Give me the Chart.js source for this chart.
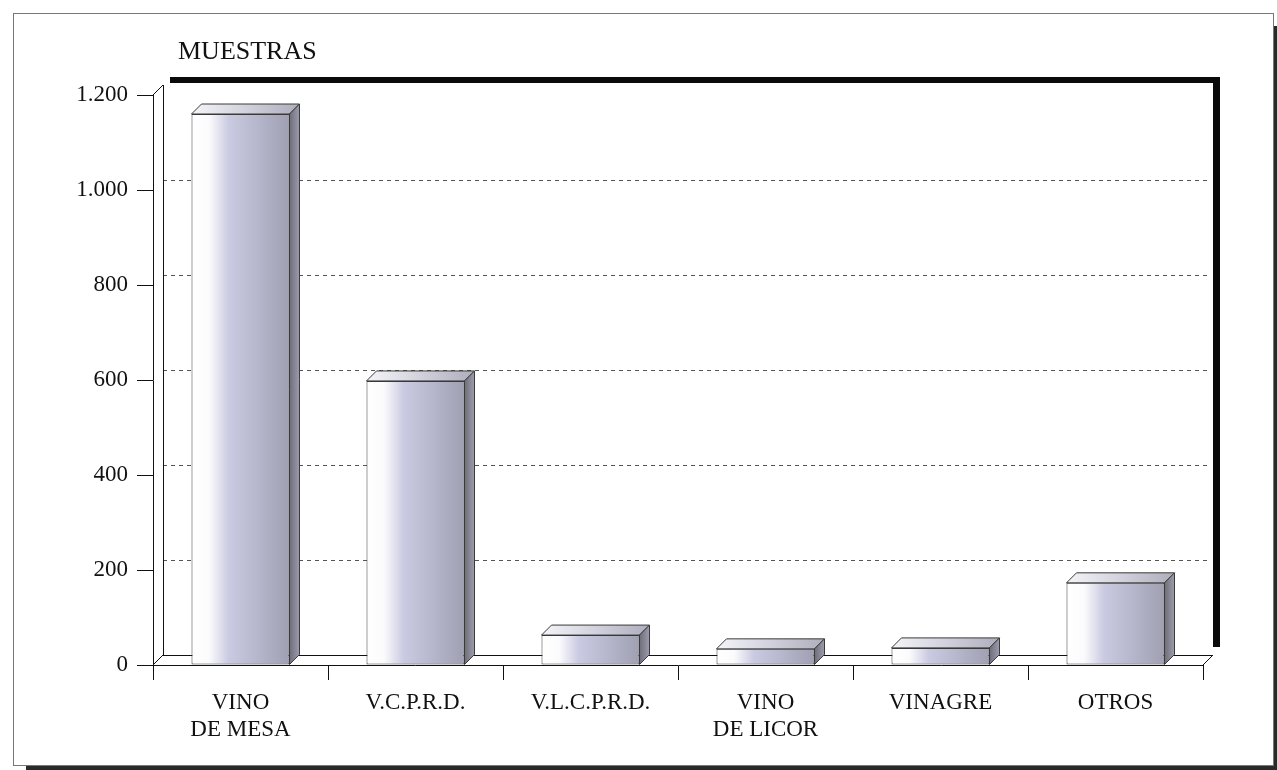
<!DOCTYPE html>
<html>
<head>
<meta charset="utf-8">
<script src="https://cdn.jsdelivr.net/npm/chart.js@4.4.0/dist/chart.umd.min.js"></script>
<style>
  html, body { margin: 0; padding: 0; background: #ffffff; }
  #wrap { width: 1277px; height: 770px; }
</style>
</head>
<body>
<div id="wrap"><canvas id="c" width="1277" height="770"></canvas></div>
<script>
const categories = [["VINO", "DE MESA"], "V.C.P.R.D.", "V.L.C.P.R.D.", ["VINO", "DE LICOR"], "VINAGRE", "OTROS"];
const muestras = [1160, 598, 63, 34, 36, 173];
const yTicks = [0, 200, 400, 600, 800, 1000, 1200];
const yTitle = "MUESTRAS";

const FONT = "'Liberation Serif', 'Times New Roman', serif";
const DEPTH = 10;

function fmt(v) {
  return String(v).replace(/\B(?=(\d{3})+(?!\d))/g, ".");
}

const frame3d = {
  id: 'frame3d',
  beforeDraw(chart) {
    const ctx = chart.ctx;
    ctx.save();
    ctx.fillStyle = '#ffffff';
    ctx.fillRect(0, 0, chart.width, chart.height);
    // outer box with shadow
    ctx.strokeStyle = '#777777';
    ctx.lineWidth = 1;
    ctx.strokeRect(13.5, 13.5, 1260, 752);
    ctx.fillStyle = '#2a2a2a';
    ctx.fillRect(26, 766, 1251, 4);
    ctx.fillRect(1274, 26, 3, 744);
    // title
    ctx.fillStyle = '#111111';
    ctx.font = "26px " + FONT;
    ctx.textAlign = 'left';
    ctx.textBaseline = 'middle';
    ctx.fillText(yTitle, 178, 52);
    ctx.restore();
  },
  beforeDatasetsDraw(chart) {
    const ctx = chart.ctx;
    const a = chart.chartArea;
    const ys = chart.scales.y;
    const D = DEPTH;
    ctx.save();
    // dashed gridlines on back wall
    ctx.strokeStyle = '#555555';
    ctx.lineWidth = 1;
    ctx.setLineDash([4, 4]);
    yTicks.forEach(v => {
      if (v === 0 || v === yTicks[yTicks.length - 1]) return;
      const y = Math.round(ys.getPixelForValue(v) - D) + 0.5;
      ctx.beginPath();
      ctx.moveTo(a.left + D, y);
      ctx.lineTo(a.right + D - 2, y);
      ctx.stroke();
    });
    ctx.setLineDash([]);
    ctx.strokeStyle = '#111111';
    ctx.beginPath();
    // back wall left edge
    ctx.moveTo(a.left + D + 0.5, a.top - D);
    ctx.lineTo(a.left + D + 0.5, a.bottom - D);
    // top-left diagonal
    ctx.moveTo(a.left, a.top);
    ctx.lineTo(a.left + D, a.top - D);
    // floor back edge
    ctx.moveTo(a.left + D, a.bottom - D + 0.5);
    ctx.lineTo(a.right + D, a.bottom - D + 0.5);
    // floor diagonals
    ctx.moveTo(a.left, a.bottom);
    ctx.lineTo(a.left + D, a.bottom - D);
    ctx.moveTo(a.right, a.bottom);
    ctx.lineTo(a.right + D, a.bottom - D);
    ctx.stroke();
    // thick top and right edges of the wall
    ctx.fillStyle = '#0a0a0a';
    ctx.fillRect(a.left + D + 7, a.top - D - 8, a.right - a.left, 6);
    ctx.fillRect(a.right + D, a.top - D - 8, 7, a.bottom - a.top);
    ctx.restore();
  },
  afterDatasetsDraw(chart) {
    const ctx = chart.ctx;
    const D = DEPTH;
    const meta = chart.getDatasetMeta(0);
    ctx.save();
    meta.data.forEach(bar => {
      const p = bar.getProps(['x', 'y', 'base', 'width'], true);
      const l = p.x - p.width / 2, r = p.x + p.width / 2;
      const t = p.y, b = p.base;
      // top face
      const tg = ctx.createLinearGradient(l, 0, r + D, 0);
      tg.addColorStop(0, '#f4f4f8');
      tg.addColorStop(0.5, '#d2d2de');
      tg.addColorStop(1, '#adadbc');
      ctx.fillStyle = tg;
      ctx.strokeStyle = '#3a3a3a';
      ctx.lineWidth = 1;
      ctx.beginPath();
      ctx.moveTo(l, t);
      ctx.lineTo(l + D, t - D);
      ctx.lineTo(r + D, t - D);
      ctx.lineTo(r, t);
      ctx.closePath();
      ctx.fill();
      ctx.stroke();
      // side face
      const sg = ctx.createLinearGradient(r, 0, r + D, 0);
      sg.addColorStop(0, '#6e6e7a');
      sg.addColorStop(1, '#9c9cac');
      ctx.fillStyle = sg;
      ctx.beginPath();
      ctx.moveTo(r, t);
      ctx.lineTo(r + D, t - D);
      ctx.lineTo(r + D, b - D);
      ctx.lineTo(r, b);
      ctx.closePath();
      ctx.fill();
      ctx.stroke();
    });
    ctx.restore();
  }
};

function frontGradient(c) {
  const chart = c.chart;
  const xs = chart.scales.x;
  if (!xs || !chart.chartArea) return '#c0c0d4';
  const x = xs.getPixelForValue(c.dataIndex);
  const w = (xs.width / categories.length) * 0.56;
  const l = x - w / 2, r = x + w / 2;
  const g = chart.ctx.createLinearGradient(l, 0, r, 0);
  g.addColorStop(0, '#ffffff');
  g.addColorStop(0.18, '#fbfbfd');
  g.addColorStop(0.38, '#cacae2');
  g.addColorStop(0.7, '#b4b4ca');
  g.addColorStop(1, '#a0a0b2');
  return g;
}

new Chart(document.getElementById('c'), {
  type: 'bar',
  data: {
    labels: categories,
    datasets: [{
      label: yTitle,
      data: muestras,
      backgroundColor: frontGradient,
      borderColor: '#3a3a3a',
      borderWidth: 1,
      borderSkipped: false,
      barPercentage: 0.56,
      categoryPercentage: 1.0
    }]
  },
  options: {
    responsive: false,
    animation: false,
    devicePixelRatio: 1,
    layout: { padding: { top: 95, right: 74, left: 0, bottom: 0 } },
    plugins: {
      legend: { display: false },
      tooltip: { enabled: false },
      title: { display: false }
    },
    scales: {
      x: {
        afterFit(s) { s.height = 105; },
        grid: {
          display: true,
          drawOnChartArea: false,
          drawTicks: true,
          tickLength: 15,
          color: '#111111',
          offset: true
        },
        border: { display: true, color: '#111111', width: 1 },
        ticks: {
          color: '#111111',
          font: { family: FONT, size: 23, lineHeight: 1.2 },
          padding: 9,
          maxRotation: 0,
          autoSkip: false
        }
      },
      y: {
        min: 0,
        max: 1200,
        afterFit(s) { s.width = 153; },
        afterBuildTicks(s) { s.ticks = yTicks.map(v => ({ value: v })); },
        grid: {
          display: true,
          drawOnChartArea: false,
          drawTicks: true,
          tickLength: 16,
          color: '#111111'
        },
        border: { display: true, color: '#111111', width: 1 },
        ticks: {
          color: '#111111',
          font: { family: FONT, size: 23 },
          padding: 9,
          callback: v => fmt(v)
        }
      }
    }
  },
  plugins: [frame3d]
});
</script>
</body>
</html>
